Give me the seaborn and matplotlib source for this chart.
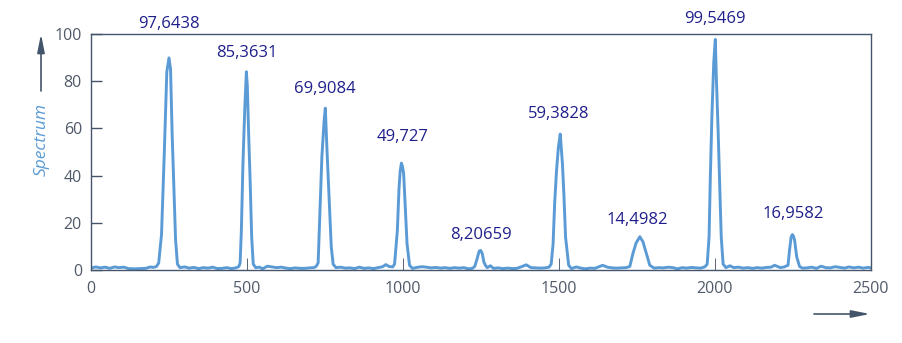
import matplotlib
matplotlib.use("Agg")
import matplotlib.pyplot as plt
import seaborn as sns
import pandas as pd

# ---- data ----
spectrum_x = [
    0, 15, 30, 45, 60, 75, 90, 105, 120, 140, 160, 175, 190, 200, 210,
    217, 226, 235, 243, 250, 255, 260, 266, 271, 277,
    285, 300, 315, 330, 345, 360, 375, 390, 405, 420, 435, 450, 465, 474,
    478, 482, 487, 493, 498, 501, 505, 510, 515, 520,
    528, 540, 550, 565, 580, 595, 610, 625, 640, 655, 670, 685, 700, 715, 722,
    728, 733, 740, 747, 751, 756, 763, 770, 776,
    785, 800, 815, 830, 845, 860, 875, 890, 905, 920, 935, 945, 955, 967,
    973, 982, 987, 991, 995, 998, 1002, 1007, 1013, 1021,
    1030, 1045, 1060, 1075, 1090, 1105, 1120, 1135, 1150, 1165, 1180, 1195, 1210, 1222, 1230,
    1238, 1244, 1249, 1254, 1259, 1264,
    1270, 1280, 1290, 1305, 1320, 1335, 1350, 1365, 1380, 1395, 1410, 1425, 1440, 1455, 1468,
    1475, 1481, 1486, 1492, 1498, 1504, 1511, 1516, 1521, 1531,
    1540, 1555, 1570, 1585, 1600, 1615, 1630, 1640, 1655, 1670, 1685, 1700, 1715, 1727,
    1737, 1747, 1759, 1769, 1780, 1791,
    1805, 1820, 1835, 1850, 1865, 1880, 1895, 1910, 1925, 1940, 1955, 1968,
    1975, 1981, 1985, 1990, 1996, 2001, 2004, 2010, 2015, 2020, 2026,
    2035, 2048, 2060, 2075, 2090, 2105, 2120, 2135, 2150, 2165, 2180, 2191, 2200, 2210, 2222,
    2234, 2239, 2244, 2248, 2251, 2255, 2262, 2271,
    2280, 2295, 2310, 2325, 2340, 2355, 2370, 2385, 2400, 2415, 2430, 2445, 2460, 2475, 2490, 2500,
]
spectrum_y = [
    0.8, 1.3, 0.9, 1.2, 0.7, 1.3, 1.0, 1.2, 0.6, 0.5, 0.6, 0.7, 1.3, 1.1, 1.5,
    3.0, 15.0, 50.0, 84.0, 89.9, 85.0, 58.0, 34.0, 13.0, 2.5,
    1.0, 1.3, 0.8, 1.1, 0.6, 1.0, 0.8, 1.2, 0.6, 0.7, 1.0, 0.6, 0.9, 1.5,
    3.0, 17.0, 45.0, 69.0, 84.0, 78.0, 59.0, 38.0, 14.0, 2.5,
    1.0, 1.2, 0.5, 1.6, 1.3, 1.0, 1.2, 0.8, 0.6, 0.9, 0.7, 0.7, 0.9, 1.0, 1.6,
    3.0, 22.0, 48.0, 63.0, 68.6, 52.0, 31.0, 10.0, 2.5,
    1.0, 1.2, 0.8, 0.9, 0.6, 1.2, 0.7, 0.9, 0.6, 1.0, 1.4, 2.3, 1.5, 1.3,
    2.5, 17.0, 34.0, 42.0, 45.3, 44.0, 41.0, 27.0, 11.0, 2.0,
    0.7, 1.1, 1.4, 1.2, 0.9, 1.1, 0.8, 1.0, 0.7, 1.0, 0.8, 1.0, 0.5, 0.7, 1.5,
    5.0, 8.0, 8.3, 7.0, 3.5, 2.0,
    1.0, 1.8, 0.7, 0.9, 0.6, 0.8, 0.6, 0.7, 1.4, 2.2, 1.0, 0.9, 0.8, 0.9, 1.2,
    2.5, 11.0, 28.0, 42.0, 52.0, 57.6, 45.0, 31.0, 14.0, 2.0,
    0.6, 1.3, 0.8, 0.5, 0.8, 0.7, 1.5, 2.0, 1.2, 0.9, 0.8, 0.9, 1.0, 1.5,
    7.0, 11.4, 14.1, 12.0, 7.0, 2.0,
    0.8, 1.0, 0.9, 1.2, 1.0, 0.5, 1.0, 0.8, 1.1, 0.9, 0.8, 1.4,
    2.5, 14.0, 39.0, 65.0, 88.0, 97.7, 83.0, 59.0, 37.0, 14.0, 2.5,
    1.0, 1.8, 1.0, 1.2, 0.8, 1.0, 0.7, 1.0, 0.8, 1.1, 1.2, 2.0, 1.5, 1.0, 1.3,
    2.0, 8.5, 14.0, 15.0, 14.5, 12.7, 5.5, 1.5,
    0.8, 0.9, 1.2, 0.7, 1.6, 1.0, 0.9, 1.4, 1.1, 0.8, 1.3, 0.9, 1.2, 0.8, 1.1, 0.9,
]
peak_x = [250, 500, 750, 1000, 1250, 1500, 1750, 2000, 2250]
peak_values = [97.6438, 85.3631, 69.9084, 49.727, 8.20659, 59.3828, 14.4982, 99.5469, 16.9582]
peak_labels = ["97,6438", "85,3631", "69,9084", "49,727", "8,20659",
               "59,3828", "14,4982", "99,5469", "16,9582"]
x_ticks = [0, 500, 1000, 1500, 2000, 2500]
y_ticks = [0, 20, 40, 60, 80, 100]
y_title = "Spectrum"

# ---- style ----
sns.set_theme(style="white")
plt.rcParams["font.family"] = ["Open Sans", "DejaVu Sans"]

AXIS_COLOR = "#44546A"
TICK_TEXT = "#505A69"
LINE_COLOR = "#5B9BD5"
LABEL_COLOR = "#1F1F8C"

W, H = 903, 343
fig = plt.figure(figsize=(W / 100, H / 100), dpi=100)
ax = fig.add_axes([91 / W, 1 - 270 / H, 780 / W, 236 / H])

df = pd.DataFrame({"x": spectrum_x, "y": spectrum_y})
sns.lineplot(data=df, x="x", y="y", ax=ax, color=LINE_COLOR, linewidth=2.1,
             estimator=None, sort=True)

ax.set_xlim(0, 2500)
ax.set_ylim(0, 100)
ax.set_xticks(x_ticks)
ax.set_yticks(y_ticks)
ax.set_xlabel("")
ax.set_ylabel(y_title, fontsize=12.5, style="italic", color=LINE_COLOR)
ax.yaxis.set_label_coords((42 - 91) / 780, (270 - 140) / 236)
ax.yaxis.label.set_verticalalignment("center")

for s in ax.spines.values():
    s.set_visible(True)
    s.set_color(AXIS_COLOR)
    s.set_linewidth(1.0)

ax.tick_params(axis="y", direction="in", length=8, width=1.0, color=AXIS_COLOR,
               pad=6.5, labelsize=11.5, labelcolor=TICK_TEXT, left=True)
ax.tick_params(axis="x", direction="in", length=9, width=0.7, color="#5A6474",
               pad=8.0, labelsize=11.5, labelcolor=TICK_TEXT, bottom=True)
ax.grid(False)

for px, v, lab in zip(peak_x, peak_values, peak_labels):
    ax.text(px, v + 6.6, lab, ha="center", va="center", fontsize=12,
            color=LABEL_COLOR, clip_on=False)

# axis direction arrows
ax.annotate("", xy=(41 / W, 1 - 34 / H), xytext=(41 / W, 1 - 91 / H),
            xycoords="figure fraction", textcoords="figure fraction",
            arrowprops=dict(arrowstyle="-|>,head_length=1.1,head_width=0.22",
                            color=AXIS_COLOR, lw=1.2, mutation_scale=10,
                            shrinkA=0, shrinkB=0))
ax.annotate("", xy=(870 / W, 1 - 314 / H), xytext=(814 / W, 1 - 314 / H),
            xycoords="figure fraction", textcoords="figure fraction",
            arrowprops=dict(arrowstyle="-|>,head_length=1.1,head_width=0.22",
                            color=AXIS_COLOR, lw=1.2, mutation_scale=10,
                            shrinkA=0, shrinkB=0))

fig.savefig("out.png", dpi=100)
